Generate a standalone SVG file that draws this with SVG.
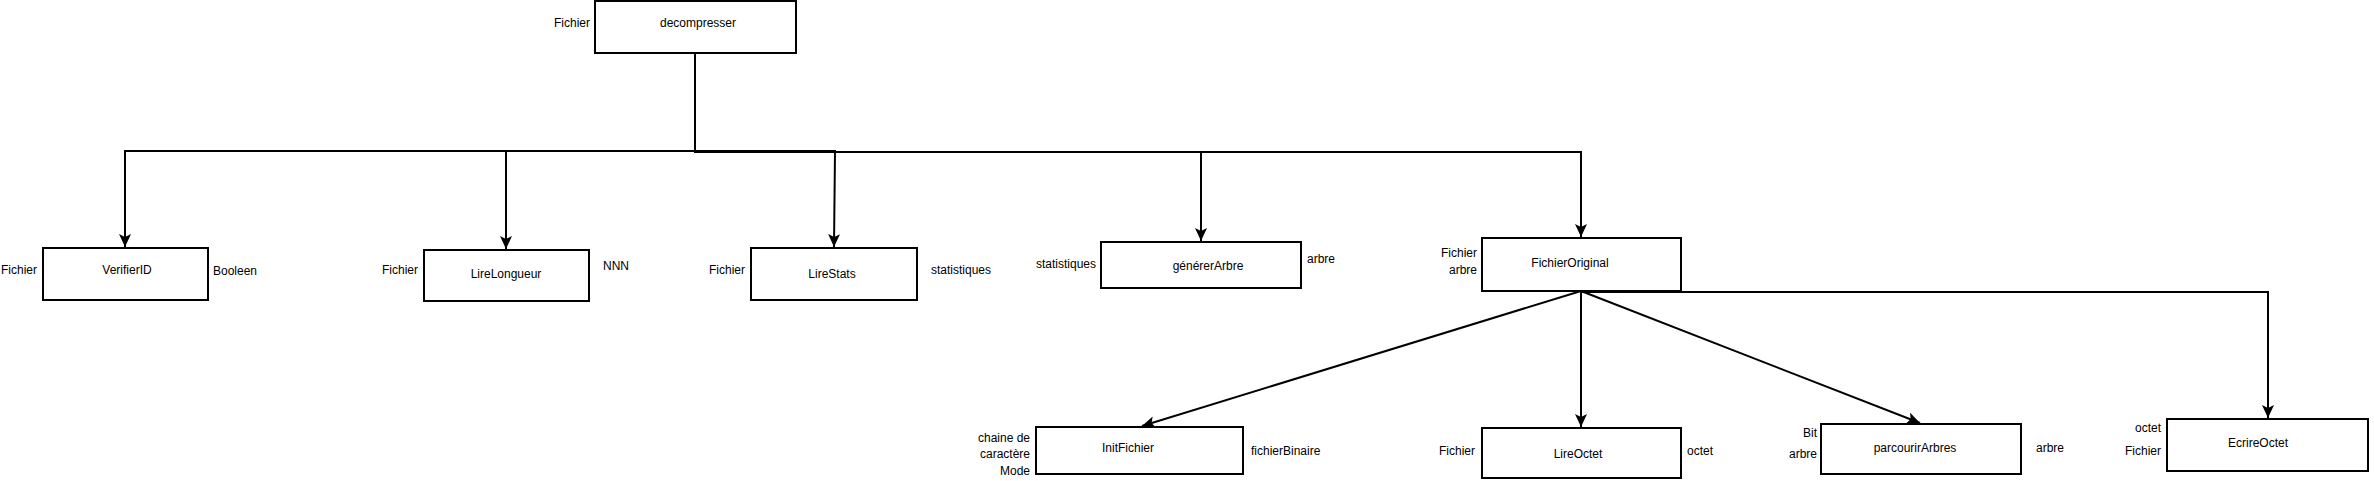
<svg xmlns="http://www.w3.org/2000/svg" width="2374" height="481" viewBox="0 0 2374 481">
<style>
.box{fill:#fff;stroke:#000;stroke-width:2}
.t{font-family:"Liberation Sans",Arial,sans-serif;font-size:12px;fill:#000}
.c{text-anchor:middle}
.e{text-anchor:end}
.conn{fill:none;stroke:#000;stroke-width:2}
</style>
<defs>
<marker id="arr" markerUnits="userSpaceOnUse" markerWidth="14" markerHeight="12" refX="13" refY="6" orient="auto">
<path d="M0,0 L13,6 L0,12 L3,6 z" fill="#000"/>
</marker>
</defs>
<g id="connectors">
<path class="conn" d="M695,53 V151 H125 V247" marker-end="url(#arr)"/>
<path class="conn" d="M695,53 V151 H506 V249" marker-end="url(#arr)"/>
<path class="conn" d="M695,53 V151 H835 L834,247" marker-end="url(#arr)"/>
<path class="conn" d="M695,53 V152 H1201 V241" marker-end="url(#arr)"/>
<path class="conn" d="M695,53 V152 H1581 V237" marker-end="url(#arr)"/>
<path class="conn" d="M1581,291 L1142,426" marker-end="url(#arr)"/>
<path class="conn" d="M1581,291 V427" marker-end="url(#arr)"/>
<path class="conn" d="M1581,291 L1920,423" marker-end="url(#arr)"/>
<path class="conn" d="M1581,292 H2268 V418" marker-end="url(#arr)"/>
</g>
<g id="decompresser">
<rect class="box" x="595" y="1" width="201" height="52"/>
<text class="t c" x="698" y="27">decompresser</text>
<text class="t e" x="590" y="27">Fichier</text>
</g>
<g id="VerifierID">
<rect class="box" x="43" y="248" width="165" height="52"/>
<text class="t c" x="127" y="274">VerifierID</text>
<text class="t" x="1" y="274">Fichier</text>
<text class="t" x="213" y="275">Booleen</text>
</g>
<g id="LireLongueur">
<rect class="box" x="424" y="250" width="165" height="51"/>
<text class="t c" x="506" y="278">LireLongueur</text>
<text class="t e" x="418" y="274">Fichier</text>
<text class="t" x="603" y="270">NNN</text>
</g>
<g id="LireStats">
<rect class="box" x="751" y="248" width="166" height="52"/>
<text class="t c" x="832" y="278">LireStats</text>
<text class="t e" x="745" y="274">Fichier</text>
<text class="t" x="931" y="274">statistiques</text>
</g>
<g id="genererArbre">
<rect class="box" x="1101" y="242" width="200" height="46"/>
<text class="t c" x="1208" y="270">générerArbre</text>
<text class="t e" x="1096" y="268">statistiques</text>
<text class="t" x="1307" y="263">arbre</text>
</g>
<g id="FichierOriginal">
<rect class="box" x="1482" y="238" width="199" height="53"/>
<text class="t c" x="1570" y="267">FichierOriginal</text>
<text class="t e" x="1477" y="257">Fichier</text>
<text class="t e" x="1477" y="274">arbre</text>
</g>
<g id="InitFichier">
<rect class="box" x="1036" y="427" width="207" height="47"/>
<text class="t c" x="1128" y="452">InitFichier</text>
<text class="t e" x="1030" y="442">chaine de</text>
<text class="t e" x="1030" y="458">caractère</text>
<text class="t e" x="1030" y="475">Mode</text>
<text class="t" x="1251" y="455">fichierBinaire</text>
</g>
<g id="LireOctet">
<rect class="box" x="1482" y="428" width="199" height="50"/>
<text class="t c" x="1578" y="458">LireOctet</text>
<text class="t e" x="1475" y="455">Fichier</text>
<text class="t" x="1687" y="455">octet</text>
</g>
<g id="parcourirArbres">
<rect class="box" x="1821" y="424" width="200" height="50"/>
<text class="t c" x="1915" y="452">parcourirArbres</text>
<text class="t e" x="1817" y="437">Bit</text>
<text class="t e" x="1817" y="458">arbre</text>
<text class="t" x="2036" y="452">arbre</text>
</g>
<g id="EcrireOctet">
<rect class="box" x="2167" y="419" width="201" height="52"/>
<text class="t c" x="2258" y="447">EcrireOctet</text>
<text class="t e" x="2161" y="432">octet</text>
<text class="t e" x="2161" y="455">Fichier</text>
</g>
</svg>
